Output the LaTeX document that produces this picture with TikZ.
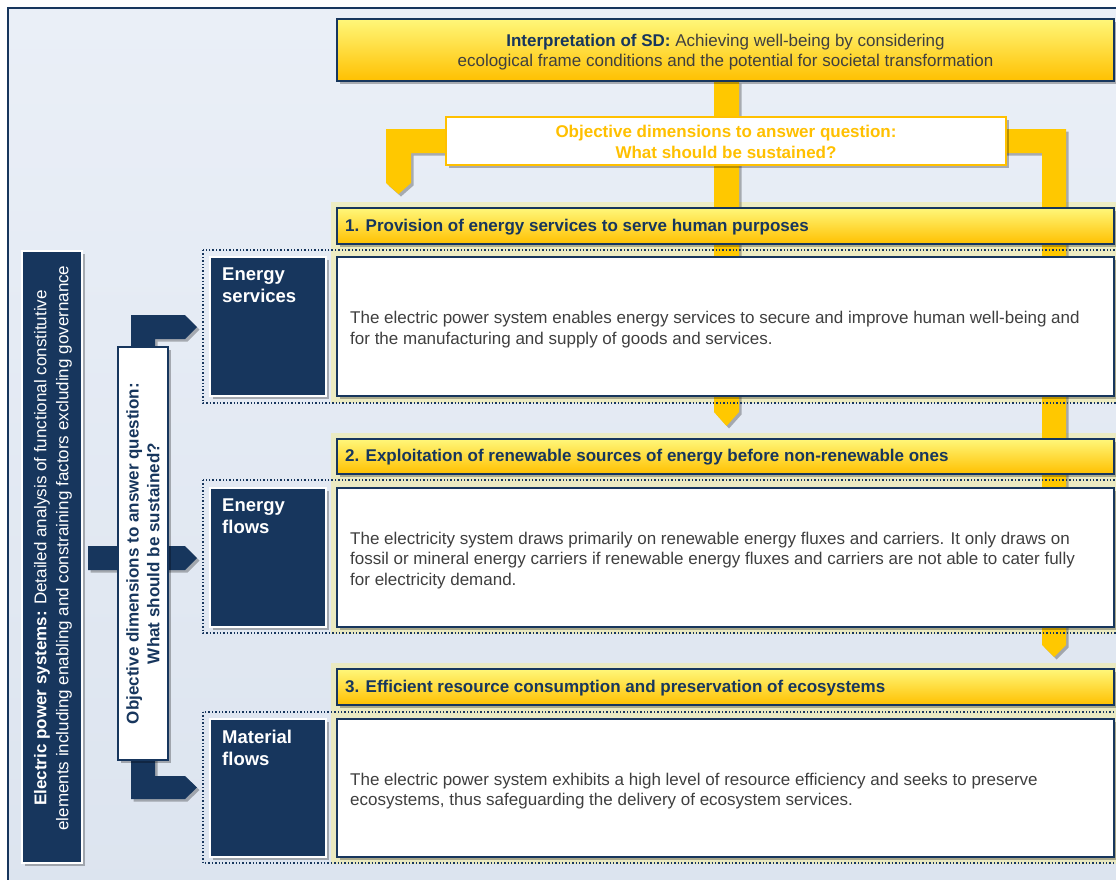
\documentclass[tikz,border=0pt]{standalone}
\usepackage{fontspec}
\setmainfont{Liberation Sans}
\usetikzlibrary{shadows}
\definecolor{navy}{HTML}{17365D}
\definecolor{ybar}{HTML}{FFC800}
\definecolor{ytop}{HTML}{FFF77A}
\definecolor{ybot}{HTML}{FFC000}
\definecolor{bgA}{HTML}{EAEFF7}
\definecolor{bgB}{HTML}{DCE4EF}
\definecolor{txt}{HTML}{3F3F3F}
\definecolor{otxt}{HTML}{FFC000}
\definecolor{glow}{HTML}{F3EC9A}
\newcommand\fsA{\fontsize{17}{20.7}\selectfont}
\newcommand\fsB{\fontsize{18.5}{22}\selectfont\bfseries}
\begin{document}
\begin{tikzpicture}[x=1pt,y=-1pt,
  shd/.style={drop shadow={shadow xshift=2.5pt,shadow yshift=-2.5pt,opacity=0.28,fill=black}},
  box/.style={inner sep=0pt,outer sep=0pt,anchor=north west},
  ybox/.style={box,draw=navy,line width=1.6pt,top color=ytop,bottom color=ybot,shd},
  wbox/.style={box,draw=navy,line width=1.6pt,fill=white,shd},
  nbox/.style={box,draw=white,line width=1.6pt,fill=navy,shd},
  obox/.style={box,draw=ybot,line width=1.6pt,fill=white,shd},
  ybarsty/.style={fill=ybar,shd},
  narrow/.style={fill=navy,shd},
  dotbox/.style={draw=navy,line width=1.4pt,dotted},
  glowsty/.style={fill=glow,opacity=0.55},
  ttl/.style={font=\fsA\bfseries,text=navy,anchor=west,inner sep=0pt},
  body/.style={font=\fsA,text=txt,anchor=west,align=left,inner sep=0pt},
  ntxt/.style={font=\fsB,text=white,anchor=north west,align=left,inner sep=0pt}
]
\useasboundingbox (0,0) rectangle (1116,879);
\fill[white] (0,0) rectangle (1116,879);
\path[draw=navy,line width=2pt,top color=bgA,bottom color=bgB] (8,8) rectangle (1140,900);

% glows
\fill[glowsty] (331,202) rectangle (1120,403);
\fill[glowsty] (331,433) rectangle (1120,634);
\fill[glowsty] (331,663) rectangle (1120,864);

% yellow block arrows
\path[ybarsty] (714,81) -- (739,81) -- (739,412) -- (726.5,426) -- (714,412) -- cycle;
\path[ybarsty] (450,129) -- (386,129) -- (386,183) -- (398.5,194) -- (411,183) -- (411,153) -- (450,153) -- cycle;
\path[ybarsty] (1000,129) -- (1066,129) -- (1066,645) -- (1054,657) -- (1042,645) -- (1042,153) -- (1000,153) -- cycle;

% navy block arrows
\path[narrow] (131,350) -- (131,315) -- (185,315) -- (197,327) -- (185,339) -- (155,339) -- (155,350) -- cycle;
\path[narrow] (88,546) -- (185,546) -- (197,558) -- (185,570) -- (88,570) -- cycle;
\path[narrow] (131,757) -- (155,757) -- (155,776) -- (185,776) -- (197,787.5) -- (185,799) -- (131,799) -- cycle;

% top banner
\node[ybox,minimum width=777,minimum height=62] (sd) at (337,19) {};
\node[font=\fsA,text=txt,align=center] at ([yshift=-2pt]sd.center) {\textcolor{navy}{\bfseries Interpretation of SD:} Achieving well-being by considering\\ecological frame conditions and the potential for societal transformation};

% objective box (top)
\node[obox,minimum width=560,minimum height=48] (obj) at (446,117) {};
\node[font=\fsA\bfseries,text=otxt,align=center] at ([yshift=-1pt]obj.center) {Objective dimensions to answer question:\\What should be sustained?};

% dotted section frames
\draw[dotbox] (203,250) rectangle (1140,403);
\draw[dotbox] (203,480) rectangle (1140,633);
\draw[dotbox] (203,712) rectangle (1140,863);

% section 1
\node[ybox,minimum width=777,minimum height=36] (t1) at (337,208) {};
\node[ttl] at ([xshift=8pt,yshift=-1pt]t1.west) {1. Provision of energy services to serve human purposes};
\node[nbox,minimum width=116,minimum height=139] (es) at (210,257) {};
\node[ntxt] at ([xshift=12pt,yshift=-11pt]es.north west) {Energy\\services};
\node[wbox,minimum width=777,minimum height=139] (c1) at (337,257) {};
\node[body] at ([xshift=13pt,yshift=-3pt]c1.west) {The electric power system enables energy services to secure and improve human well-being and\\for the manufacturing and supply of goods and services.};

% section 2
\node[ybox,minimum width=777,minimum height=35] (t2) at (337,439) {};
\node[ttl] at ([xshift=8pt,yshift=-1pt]t2.west) {2. Exploitation of renewable sources of energy before non-renewable ones};
\node[nbox,minimum width=116,minimum height=139] (ef) at (210,488) {};
\node[ntxt] at ([xshift=12pt,yshift=-11pt]ef.north west) {Energy\\flows};
\node[wbox,minimum width=777,minimum height=139] (c2) at (337,488) {};
\node[body] at ([xshift=13pt,yshift=-3pt]c2.west) {The electricity system draws primarily on renewable energy fluxes and carriers. It only draws on\\fossil or mineral energy carriers if renewable energy fluxes and carriers are not able to cater fully\\for electricity demand.};

% section 3
\node[ybox,minimum width=777,minimum height=36] (t3) at (337,669) {};
\node[ttl] at ([xshift=8pt,yshift=-1pt]t3.west) {3. Efficient resource consumption and preservation of ecosystems};
\node[nbox,minimum width=116,minimum height=138] (mf) at (210,719) {};
\node[ntxt] at ([xshift=12pt,yshift=-11pt]mf.north west) {Material\\flows};
\node[wbox,minimum width=777,minimum height=138] (c3) at (337,719) {};
\node[body] at ([xshift=13pt,yshift=-3pt]c3.west) {The electric power system exhibits a high level of resource efficiency and seeks to preserve\\ecosystems, thus safeguarding the delivery of ecosystem services.};

% left tall box
\node[nbox,minimum width=60,minimum height=612] (eps) at (22,251) {};
\node[font=\fontsize{17}{22}\selectfont,text=white,align=center,rotate=90] at (53,548) {{\bfseries Electric power systems:} Detailed analysis of functional constitutive\\elements including enabling and constraining factors excluding governance};

% vertical objective box
\node[wbox,minimum width=50,minimum height=413] (vobj) at (118,347) {};
\node[font=\fsA\bfseries,text=navy,align=center,rotate=90] at (vobj.center) {Objective dimensions to answer question:\\What should be sustained?};
\end{tikzpicture}
\end{document}
